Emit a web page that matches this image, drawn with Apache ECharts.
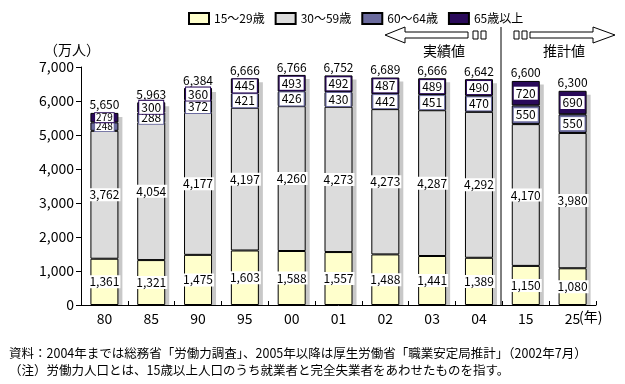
<!DOCTYPE html>
<html><head><meta charset="utf-8">
<script src="https://cdn.jsdelivr.net/npm/echarts@6/dist/echarts.min.js"></script>
<style>html,body{margin:0;padding:0;background:#fff}#c{width:625px;height:384px}</style>
</head><body><div id="c"></div>
<script>
const categories = ['80','85','90','95','00','01','02','03','04','15','25'];
const age15_29 = [1361,1321,1475,1603,1588,1557,1488,1441,1389,1150,1080];
const age30_59 = [3762,4054,4177,4197,4260,4273,4273,4287,4292,4170,3980];
const age60_64 = [248,288,372,421,426,430,442,451,470,550,550];
const age65up  = [279,300,360,445,493,492,487,489,490,720,690];
const totals   = [5650,5963,6384,6666,6766,6752,6689,6666,6642,6600,6300];
const seriesNames = ['15～29歳','30～59歳','60～64歳','65歳以上'];
const colors = ['#ffffcc','#dcdcdc','#6b6b9e','#2a0a5a'];

const FONT = "'Noto Sans CJK JP', sans-serif";
const fmt = v => v.toLocaleString('en-US');
const BW = 28;

function mainLabel() {
  return {show:true, position:'inside', color:'#000', fontFamily:FONT, fontSize:12, lineHeight:13,
    backgroundColor:'#fff', padding:[0,1], formatter:p=>fmt(p.value)};
}
function boxData(arr, color) {
  return arr.map((v,i)=> i===0 ? {value:v, label:{fontSize:10, lineHeight:9, padding:[0,1]}} : v);
}
function boxLabel(color) {
  return {show:true, position:'inside', color:'#000', fontFamily:FONT, fontSize:12, lineHeight:13,
    backgroundColor:'#fff', borderColor:color, borderWidth:1, padding:[0,2], formatter:p=>fmt(p.value)};
}

const chart = echarts.init(document.getElementById('c'), null, {renderer:'canvas'});
chart.setOption({
  animation:false,
  textStyle:{fontFamily:FONT},
  legend:{data:seriesNames, left:183, top:7, itemWidth:20, itemHeight:11, itemGap:10,
    textStyle:{fontFamily:FONT, fontSize:12, color:'#000'}, icon:'rect'},
  grid:{left:81, right:29, top:67, bottom:79, containLabel:false},
  xAxis:{type:'category', data:categories,
    axisLine:{lineStyle:{color:'#000', width:1}},
    axisTick:{show:true, inside:true, length:4, lineStyle:{color:'#000'}},
    axisLabel:{color:'#000', fontFamily:FONT, fontSize:14, margin:7}},
  yAxis:{type:'value', min:0, max:7000, interval:1000,
    axisLine:{show:true, lineStyle:{color:'#000', width:1}},
    axisTick:{show:true, inside:false, length:5, lineStyle:{color:'#000'}},
    splitLine:{show:false},
    axisLabel:{color:'#000', fontFamily:FONT, fontSize:14, margin:7, formatter:v=>fmt(v)}},
  series:[
    {type:'custom', name:'shadow', z:1, silent:true,
     data: totals.map((t,i)=>[i,t]),
     encode:{x:0,y:1},
     renderItem:(params, api)=>{
       const top = api.coord([api.value(0), api.value(1)]);
       const base = api.coord([api.value(0), 0]);
       return {type:'group', children:[
         {type:'rect', shape:{x:top[0]-BW/2+4, y:top[1]+4, width:BW, height:base[1]-top[1]-4},
          style:{fill:'#c8c8c8'}},
         {type:'text', style:{text:fmt(api.value(1)), x:top[0], y:top[1]-2, textAlign:'center',
          textVerticalAlign:'bottom', fill:'#000', font:'12px '+FONT}}
       ]};
     }},
    {type:'bar', name:seriesNames[0], stack:'a', z:2, barWidth:BW, data:age15_29,
     itemStyle:{color:colors[0], borderColor:'#000', borderWidth:1}, label:mainLabel()},
    {type:'bar', name:seriesNames[1], stack:'a', z:2, barWidth:BW, data:age30_59,
     itemStyle:{color:colors[1], borderColor:'#000', borderWidth:1}, label:mainLabel()},
    {type:'bar', name:seriesNames[2], stack:'a', z:2, barWidth:BW, data:boxData(age60_64),
     itemStyle:{color:colors[2], borderColor:'#000', borderWidth:1}, label:boxLabel(colors[2])},
    {type:'bar', name:seriesNames[3], stack:'a', z:2, barWidth:BW, data:boxData(age65up),
     itemStyle:{color:colors[3], borderColor:'#000', borderWidth:1}, label:boxLabel(colors[3])}
  ],
  graphic:[
    {type:'text', left:44, top:43, style:{text:'（万人）', font:'14px '+FONT, fill:'#000'}},
    {type:'text', left:579, top:310, style:{text:'(年)', font:'14px '+FONT, fill:'#000'}},
    // divider
    {type:'line', shape:{x1:501, y1:27, x2:501, y2:305}, style:{stroke:'#000', lineWidth:1}},
    // left arrow
    {type:'polygon', shape:{points:[[385,35],[405,27],[405,32],[468,32],[468,38],[405,38],[405,43]]},
     style:{fill:'#fff', stroke:'#000', lineWidth:1}},
    {type:'rect', shape:{x:473, y:31, width:5, height:8}, style:{fill:'#fff', stroke:'#000', lineWidth:1}},
    {type:'rect', shape:{x:481, y:31, width:5, height:8}, style:{fill:'#fff', stroke:'#000', lineWidth:1}},
    {type:'text', left:423, top:44, style:{text:'実績値', font:'14px '+FONT, fill:'#000'}},
    // right arrow
    {type:'rect', shape:{x:514, y:31, width:5, height:8}, style:{fill:'#fff', stroke:'#000', lineWidth:1}},
    {type:'rect', shape:{x:522, y:31, width:5, height:8}, style:{fill:'#fff', stroke:'#000', lineWidth:1}},
    {type:'polygon', shape:{points:[[530,32],[593,32],[593,27],[615,35],[593,43],[593,38],[530,38]]},
     style:{fill:'#fff', stroke:'#000', lineWidth:1}},
    {type:'text', left:543, top:44, style:{text:'推計値', font:'14px '+FONT, fill:'#000'}},
    // notes
    {type:'text', left:9, top:347, style:{text:'資料：2004年までは総務省「労働力調査」、2005年以降は厚生労働省「職業安定局推計」（2002年7月）', font:'12.5px '+FONT, fill:'#000'}},
    {type:'text', left:9, top:364, style:{text:'（注）労働力人口とは、15歳以上人口のうち就業者と完全失業者をあわせたものを指す。', font:'12.5px '+FONT, fill:'#000'}}
  ]
});
</script></body></html>
